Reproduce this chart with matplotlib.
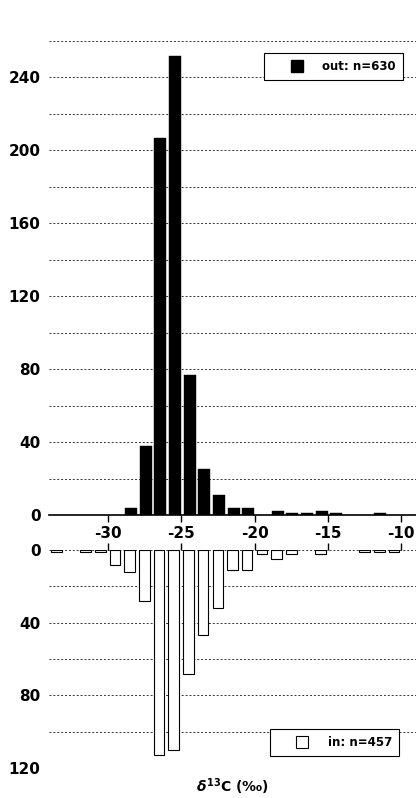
import matplotlib

matplotlib.use("Agg")
import matplotlib.pyplot as plt
from matplotlib.lines import Line2D

# histogram of d13C values, bin centres (1 permil bins)
out_centers = [-28.5, -27.5, -26.5, -25.5, -24.5, -23.5, -22.5, -21.5, -20.5,
               -18.5, -17.5, -16.5, -15.5, -14.5, -11.5]
out_counts = [4, 38, 207, 252, 77, 25, 11, 4, 4, 2, 1, 1, 2, 1, 1]

in_centers = [-33.5, -31.5, -30.5, -29.5, -28.5, -27.5, -26.5, -25.5, -24.5, -23.5,
              -22.5, -21.5, -20.5, -19.5, -18.5, -17.5, -15.5, -12.5, -11.5, -10.5]
in_counts = [1, 1, 1, 8, 12, 28, 113, 110, 68, 47, 32, 11, 11, 2, 5, 2, 2, 1, 1, 1]

out_label = "out: n=630"
in_label = "in: n=457"
x_ticks = [-30, -25, -20, -15, -10]
out_y_ticks = list(range(0, 261, 20))
in_y_ticks = list(range(0, 121, 20))


def style_grid(ax):
    ax.grid(True, axis="y", color="black", linestyle=(0, (2, 2)), linewidth=0.7, alpha=0.8)
    ax.grid(False, axis="x")
    ax.set_axisbelow(True)


def add_legend(ax, handle, label, loc, anchor):
    leg = ax.legend(
        [handle], [label],
        loc=loc, bbox_to_anchor=anchor,
        borderaxespad=0, fancybox=False, framealpha=1, edgecolor="black",
        prop={"size": 8.5, "weight": "bold"},
        handlelength=4.3, handletextpad=0.0, borderpad=0.6,
    )
    leg.get_frame().set_linewidth(0.8)
    return leg


def main() -> int:
    plt.rcParams["font.family"] = ["DejaVu Sans"]
    plt.rcParams["font.weight"] = "bold"
    W, H = 416, 798
    fig = plt.figure(figsize=(W / 100, H / 100), dpi=100)

    # top panel: outside
    ax_out = fig.add_axes([49 / W, (H - 515) / H, 367 / W, 474 / H])
    ax_out.bar(
        [c - 0.5 + 0.17 for c in out_centers],
        out_counts,
        width=0.82,
        align="edge",
        color="black",
        edgecolor="black",
        linewidth=0.3,
        zorder=3,
    )
    ax_out.set_xlim(-34, -9)
    ax_out.set_ylim(0, 260)
    ax_out.set_yticks(out_y_ticks)
    ax_out.set_yticklabels([str(v) if v % 40 == 0 else "" for v in out_y_ticks], fontsize=11)
    ax_out.set_xticks(x_ticks)
    ax_out.set_xticklabels([str(v) for v in x_ticks], fontsize=11)
    ax_out.tick_params(axis="y", length=0, pad=6)
    ax_out.tick_params(axis="x", direction="out", length=5, width=1, pad=3)
    for side in ("top", "left", "right"):
        ax_out.spines[side].set_visible(False)
    ax_out.spines["bottom"].set_linewidth(1.2)
    style_grid(ax_out)

    out_handle = Line2D([], [], marker="s", linestyle="none", markersize=8,
                        markerfacecolor="black", markeredgecolor="black")
    add_legend(ax_out, out_handle, out_label, "upper right", (0.9646, 0.9747))

    # bottom panel: inside
    ax_in = fig.add_axes([49 / W, (H - 768) / H, 367 / W, 218 / H])
    ax_in.bar(
        in_centers,
        in_counts,
        width=0.72,
        color="white",
        edgecolor="black",
        linewidth=0.8,
        zorder=3,
    )
    ax_in.set_xlim(-34, -9)
    ax_in.set_ylim(120, 0)
    ax_in.set_yticks(in_y_ticks)
    ax_in.set_yticklabels([str(v) if v % 40 == 0 else "" for v in in_y_ticks], fontsize=11)
    ax_in.set_xticks(x_ticks)
    ax_in.xaxis.set_ticks_position("top")
    ax_in.tick_params(axis="x", direction="out", length=5, width=1, labeltop=False, labelbottom=False)
    ax_in.tick_params(axis="y", length=0, pad=6)
    for side in ("top", "bottom", "left", "right"):
        ax_in.spines[side].set_visible(False)
    style_grid(ax_in)
    ax_in.set_xlabel(r"$\delta^{13}$C (‰)", fontsize=10, fontweight="bold", labelpad=6)

    in_handle = Line2D([], [], marker="s", linestyle="none", markersize=8,
                       markerfacecolor="white", markeredgecolor="black", markeredgewidth=0.8)
    add_legend(ax_in, in_handle, in_label, "lower right", (0.954, 0.055))

    fig.savefig("out.png", dpi=100)
    plt.close(fig)
    return 0


if __name__ == "__main__":
    raise SystemExit(main())
